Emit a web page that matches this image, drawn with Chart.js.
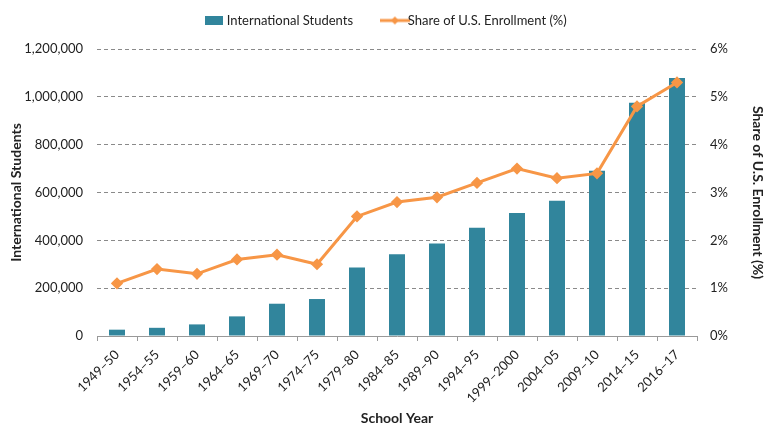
<!DOCTYPE html>
<html>
<head>
<meta charset="utf-8">
<script src="https://cdn.jsdelivr.net/npm/chart.js@4/dist/chart.umd.min.js"></script>
<style>
  html, body { margin: 0; padding: 0; background: #fff; }
  #wrap { width: 774px; height: 437px; }
</style>
</head>
<body>
<div id="wrap"><canvas id="myChart"></canvas></div>
<script>
// school years on the x axis
const years = ['1949–50', '1954–55', '1959–60', '1964–65', '1969–70', '1974–75', '1979–80',
    '1984–85', '1989–90', '1994–95', '1999–2000', '2004–05', '2009–10', '2014–15', '2016–17'];

// number of international students (bars, left axis)
const students = [26433, 34232, 48486, 82045, 134959, 154580, 286343,
    342113, 386851, 452635, 514723, 565039, 690923, 974926, 1078822];

// share of U.S. enrollment in percent (line, right axis)
const share = [1.1, 1.4, 1.3, 1.6, 1.7, 1.5, 2.5, 2.8, 2.9, 3.2, 3.5, 3.3, 3.4, 4.8, 5.3];

const barColor = '#31859C';
const lineColor = '#F79646';
const font = 'Lato, "Open Sans", sans-serif';

// little legend swatches
function barSwatch(){
    const c = document.createElement('canvas');
    c.width = 18; c.height = 9;
    const g = c.getContext('2d');
    g.fillStyle = barColor;
    g.fillRect(0, 0, 18, 9);
    return c;
}
function lineSwatch(){
    const c = document.createElement('canvas');
    c.width = 30; c.height = 10;
    const g = c.getContext('2d');
    g.strokeStyle = lineColor;
    g.lineWidth = 3;
    g.beginPath(); g.moveTo(0, 5); g.lineTo(30, 5); g.stroke();
    g.fillStyle = lineColor;
    g.beginPath(); g.moveTo(15, 1); g.lineTo(19, 5); g.lineTo(15, 9); g.lineTo(11, 5); g.closePath(); g.fill();
    return c;
}

const ctx = document.getElementById('myChart');

const myChart = new Chart(ctx, {
    data: {
        labels: years,
        datasets: [{
            type: 'line',
            label: 'Share of U.S. Enrollment (%)',
            data: share,
            yAxisID: 'y2',
            borderColor: lineColor,
            backgroundColor: lineColor,
            borderWidth: 3,
            pointStyle: 'rectRot',
            pointRadius: 4,
            pointHoverRadius: 4,
            tension: 0,
            order: 0
        },
        {
            type: 'bar',
            label: 'International Students',
            data: students,
            yAxisID: 'y',
            backgroundColor: barColor,
            barPercentage: 0.4,
            categoryPercentage: 1.0,
            order: 1
        }]
    },
    options: {
        responsive: true,
        maintainAspectRatio: false,
        animation: false,
        layout: { padding: { top: 2, left: 4, right: 4, bottom: 6 } },
        scales: {
            x: {
                grid: { display: false, drawOnChartArea: false },
                border: { color: '#999', width: 1 },
                ticks: {
                    color: '#222',
                    font: { family: font, size: 13 },
                    maxRotation: 45,
                    minRotation: 45,
                    autoSkip: false
                },
                title: {
                    display: true,
                    text: 'School Year',
                    color: '#222',
                    font: { family: font, size: 14, weight: 'bold' },
                    padding: { top: 2 }
                },
                afterFit: function(scale){ scale.height = 95; }
            },
            y: {
                position: 'left',
                min: 0,
                max: 1200000,
                ticks: {
                    stepSize: 200000,
                    color: '#222',
                    padding: 14,
                    font: { family: font, size: 13 },
                    callback: v => v.toLocaleString('en-US')
                },
                grid: {
                    color: '#8a8a8a',
                    drawTicks: false
                },
                border: { display: false, dash: [4, 3] },
                title: {
                    display: true,
                    text: 'International Students',
                    color: '#222',
                    font: { family: font, size: 14, weight: 'bold' }
                },
                afterFit: function(scale){ scale.width = 93; }
            },
            y2: {
                position: 'right',
                min: 0,
                max: 6,
                ticks: {
                    stepSize: 1,
                    color: '#222',
                    padding: 13,
                    font: { family: font, size: 13 },
                    callback: v => v + '%'
                },
                grid: { drawOnChartArea: false, drawTicks: false },
                border: { display: false },
                title: {
                    display: true,
                    text: 'Share of U.S. Enrollment (%)',
                    color: '#222',
                    font: { family: font, size: 14, weight: 'bold' }
                },
                afterFit: function(scale){ scale.width = 73; }
            }
        },
        plugins: {
            legend: {
                position: 'top',
                labels: {
                    color: '#222',
                    font: { family: font, size: 13 },
                    usePointStyle: true,
                    padding: 12,
                    generateLabels: function(chart){
                        return [
                            { text: 'International Students       ', pointStyle: barSwatch(), fontColor: '#222', datasetIndex: 1, lineWidth: 0 },
                            { text: 'Share of U.S. Enrollment (%)', pointStyle: lineSwatch(), fontColor: '#222', datasetIndex: 0, lineWidth: 0 }
                        ];
                    }
                }
            },
            tooltip: { enabled: false }
        }
    },
    plugins: [{
        // extra room under the legend
        id: 'legendGap',
        beforeLayout: function(chart){
            const lg = chart.legend;
            if (lg && !lg._gapAdded) {
                const fit = lg.fit;
                lg.fit = function(){ fit.call(this); this.height += 12; };
                lg._gapAdded = true;
            }
        }
    }, {
        // category tick marks below the x axis like the original
        id: 'catTicks',
        beforeDatasetsDraw: function(chart){
            const g = chart.ctx;
            const x = chart.scales.x;
            const area = chart.chartArea;
            g.save();
            g.strokeStyle = '#999';
            g.lineWidth = 1;
            const n = x.ticks.length;
            for (let i = 0; i <= n; i++) {
                const px = Math.round(area.left + (area.right - area.left) * i / n) + 0.5;
                g.beginPath();
                g.moveTo(px, area.bottom);
                g.lineTo(px, area.bottom + 5);
                g.stroke();
            }
            g.restore();
        }
    }]
});
</script>
</body>
</html>
